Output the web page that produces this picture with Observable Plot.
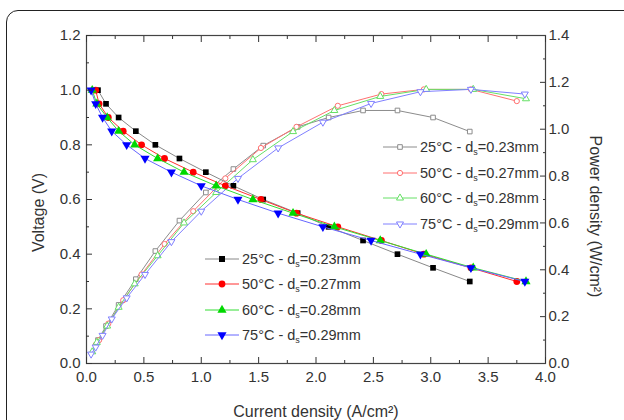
<!DOCTYPE html>
<html><head><meta charset="utf-8">
<script src="https://cdn.jsdelivr.net/npm/d3@7"></script>
<script src="https://cdn.jsdelivr.net/npm/@observablehq/plot@0.6"></script>
<style>
body{margin:0;background:#fff;}
#chart{position:relative;width:624px;height:420px;overflow:hidden;font-family:"Liberation Sans",Arial,sans-serif;background:#fff;}
#chart svg{position:absolute;left:0;top:0;}
#border{position:absolute;left:6px;top:10px;width:640px;height:440px;border:1.5px solid #222;border-radius:12px;}
</style></head><body><div id="chart"><div id="border"></div></div>
<script>
// ---- data ----
const seriesTemps = ["25°C", "50°C", "60°C", "75°C"];
const seriesGaps = ["0.23mm", "0.27mm", "0.28mm", "0.29mm"];

const current25 = [0.10,0.17,0.28,0.43,0.60,0.81,1.04,1.28,1.54,1.84,2.11,2.41,2.71,3.02,3.34];
const voltage25 = [1.00,0.95,0.90,0.85,0.80,0.75,0.70,0.65,0.60,0.55,0.50,0.45,0.40,0.35,0.30];
const power25   = [0.10,0.16,0.25,0.36,0.48,0.61,0.73,0.83,0.93,1.01,1.05,1.08,1.08,1.05,0.99];

const current50 = [0.08,0.11,0.19,0.32,0.48,0.68,0.93,1.21,1.52,1.83,2.19,2.57,2.94,3.35,3.75];
const voltage50 = [1.00,0.95,0.90,0.85,0.80,0.75,0.70,0.65,0.60,0.55,0.50,0.45,0.40,0.35,0.30];
const power50   = [0.08,0.10,0.17,0.27,0.38,0.51,0.65,0.79,0.92,1.01,1.10,1.15,1.17,1.17,1.12];

const current60 = [0.05,0.09,0.18,0.28,0.42,0.62,0.85,1.13,1.45,1.80,2.16,2.56,2.96,3.37,3.83];
const voltage60 = [1.00,0.95,0.90,0.85,0.80,0.75,0.70,0.65,0.60,0.55,0.50,0.45,0.40,0.35,0.30];
const power60   = [0.05,0.09,0.16,0.24,0.34,0.46,0.60,0.73,0.87,0.99,1.08,1.14,1.17,1.17,1.13];

const current75 = [0.04,0.08,0.14,0.22,0.35,0.51,0.74,1.00,1.32,1.67,2.06,2.48,2.91,3.35,3.82];
const voltage75 = [1.00,0.95,0.90,0.85,0.80,0.75,0.70,0.65,0.60,0.55,0.50,0.45,0.40,0.35,0.30];
const power75   = [0.04,0.07,0.12,0.19,0.28,0.38,0.52,0.65,0.79,0.92,1.03,1.11,1.16,1.17,1.15];

const xMajorTicks = [0,0.5,1.0,1.5,2.0,2.5,3.0,3.5,4.0];
const xMinorTicks = [0.25,0.75,1.25,1.75,2.25,2.75,3.25,3.75];
const vMajorTicks = [0,0.2,0.4,0.6,0.8,1.0,1.2];
const vMinorTicks = [0.1,0.3,0.5,0.7,0.9,1.1];
const pMajorTicks = [0,0.2,0.4,0.6,0.8,1.0,1.2,1.4];
const pMinorTicks = [0.1,0.3,0.5,0.7,0.9,1.1,1.3];

// ---- styling ----
const sqrt3 = Math.sqrt(3);
const triangleDown = {draw(ctx, size){const y=-Math.sqrt(size/(sqrt3*3)); ctx.moveTo(0,-y*2); ctx.lineTo(-sqrt3*y,y); ctx.lineTo(sqrt3*y,y); ctx.closePath();}};
const symbols = ["square","circle","triangle",triangleDown];
const markerColors = ["#000000","#ff0000","#00d800","#0000ff"];
const vLineColors = ["#888888","#ff3030","#33dd33","#6666ff"];
const pColors = ["#8c8c8c","#ff7070","#66e066","#8080ff"];

const series = [
  {I: current25, V: voltage25, P: power25},
  {I: current50, V: voltage50, P: power50},
  {I: current60, V: voltage60, P: power60},
  {I: current75, V: voltage75, P: power75}
].map((s,k) => ({k, rows: s.I.map((x,i) => ({x, v: s.V[i], p: s.P[i]}))}));

const W = 624, H = 420;
const M = {marginLeft: 86, marginRight: 79, marginTop: 35, marginBottom: 57};
const font = '"Liberation Sans", Arial, sans-serif';
const axisColor = "#333";
const fmt = d3.format(".1f");

// ---- power plot (right axis) ----
const powerMarks = [];
series.forEach(s => {
  powerMarks.push(Plot.line(s.rows, {x: "x", y: "p", stroke: pColors[s.k], strokeWidth: 1}));
  powerMarks.push(Plot.dot(s.rows, {x: "x", y: "p", symbol: symbols[s.k], r: 2.6, stroke: pColors[s.k], fill: "white", strokeWidth: 1}));
});
const powerPlot = Plot.plot({
  width: W, height: H, ...M,
  style: {fontFamily: font, fontSize: "15px", color: axisColor, background: "transparent"},
  x: {domain: [0, 4]},
  y: {domain: [0, 1.4]},
  marks: [
    ...powerMarks,
    Plot.axisY({anchor: "right", ticks: pMajorTicks, tickSize: -6, tickPadding: 9, tickFormat: fmt, label: null}),
    Plot.axisY({anchor: "right", ticks: pMinorTicks, tickSize: -3, tickFormat: () => "", label: null}),
    Plot.axisX({ticks: [], label: null}),
    Plot.text(["Power density (W/cm²)"], {frameAnchor: "right", textAnchor: "middle", dx: 50, dy: 17, rotate: 90, fontSize: 16, fill: axisColor})
  ]
});

// ---- voltage plot (left/bottom/top axes) ----
const voltMarks = [];
series.forEach(s => {
  voltMarks.push(Plot.line(s.rows, {x: "x", y: "v", stroke: vLineColors[s.k], strokeWidth: 1}));
  voltMarks.push(Plot.dot(s.rows, {x: "x", y: "v", symbol: symbols[s.k], r: s.k === 0 ? 3.2 : 3.4, fill: markerColors[s.k], stroke: "none"}));
});
const voltPlot = Plot.plot({
  width: W, height: H, ...M,
  style: {fontFamily: font, fontSize: "15px", color: axisColor, background: "transparent"},
  x: {domain: [0, 4]},
  y: {domain: [0, 1.2]},
  marks: [
    ...voltMarks,
    Plot.frame({stroke: "#444", strokeWidth: 1.2}),
    Plot.axisX({anchor: "bottom", ticks: xMajorTicks, tickSize: -6, tickPadding: 14, tickFormat: fmt, label: null}),
    Plot.axisX({anchor: "bottom", ticks: xMinorTicks, tickSize: -3, tickFormat: () => "", label: null}),
    Plot.axisX({anchor: "top", ticks: xMajorTicks, tickSize: -6, tickFormat: () => "", label: null}),
    Plot.axisX({anchor: "top", ticks: xMinorTicks, tickSize: -3, tickFormat: () => "", label: null}),
    Plot.axisY({anchor: "left", ticks: vMajorTicks, tickSize: -6, tickPadding: 12, tickFormat: fmt, label: null}),
    Plot.axisY({anchor: "left", ticks: vMinorTicks, tickSize: -3, tickFormat: () => "", label: null}),
    Plot.text(["Current density (A/cm²)"], {frameAnchor: "bottom", dy: 53, fontSize: 16, fill: axisColor}),
    Plot.text(["Voltage (V)"], {frameAnchor: "left", textAnchor: "middle", dx: -48, dy: 13, rotate: -90, fontSize: 16, fill: axisColor})
  ]
});

const chart = document.getElementById("chart");
chart.appendChild(powerPlot);
chart.appendChild(voltPlot);

// ---- legends ----
const svg = d3.select(voltPlot);
function legend(x0, rowsY, filled) {
  rowsY.forEach((y, k) => {
    const g = svg.append("g");
    const lc = filled ? vLineColors[k] : pColors[k];
    g.append("line").attr("x1", x0).attr("x2", x0 + 34).attr("y1", y).attr("y2", y).attr("stroke", lc).attr("stroke-width", 1);
    const sym = typeof symbols[k] === "string" ? {square: d3.symbolSquare, circle: d3.symbolCircle, triangle: d3.symbolTriangle}[symbols[k]] : symbols[k];
    const r = filled ? 3.4 : 2.6;
    g.append("path").attr("transform", `translate(${x0 + 17},${y})`)
      .attr("d", d3.symbol(sym, Math.PI * r * r)())
      .attr("fill", filled ? markerColors[k] : "white")
      .attr("stroke", filled ? "none" : pColors[k]);
    const t = g.append("text").attr("x", x0 + 37).attr("y", y).attr("dy", "0.36em")
      .attr("text-anchor", "start")
      .attr("font-size", 14.5).attr("fill", axisColor).attr("font-family", font);
    t.append("tspan").text(`${seriesTemps[k]} - d`);
    t.append("tspan").attr("font-size", 9).attr("dy", 3).text("s");
    t.append("tspan").attr("dy", -3).text(`=${seriesGaps[k]}`);
  });
}
legend(205, [259, 284, 310, 335], true);
legend(383, [147, 173, 198, 224], false);
</script></body></html>
